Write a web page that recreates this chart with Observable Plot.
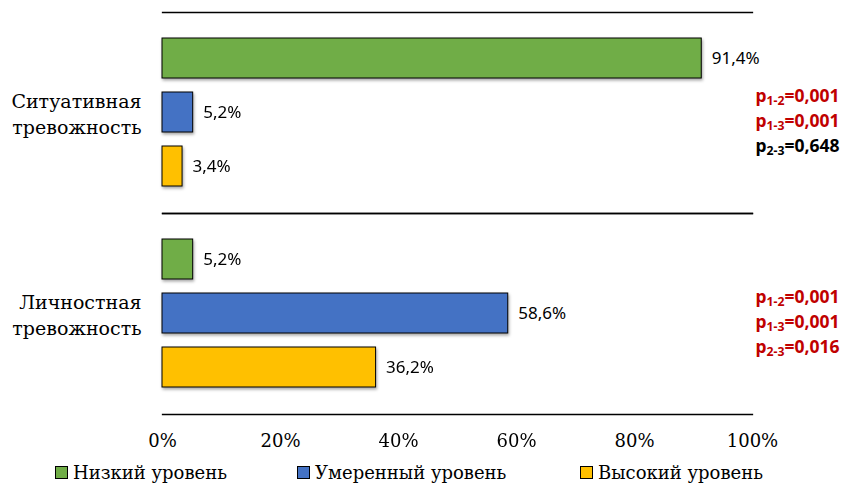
<!DOCTYPE html>
<html><head><meta charset="utf-8">
<script src="https://cdn.jsdelivr.net/npm/d3@7"></script>
<script src="https://cdn.jsdelivr.net/npm/@observablehq/plot@0.6"></script>
<style>
body{margin:0;background:#fff;}
#legend{position:relative;width:844px;height:35px;font-family:"DejaVu Serif",serif;font-size:18px;color:#000;}
#legend .item{position:absolute;top:12px;display:flex;align-items:center;white-space:nowrap;}
#legend .sw{width:11px;height:11px;border:1px solid #000;margin-right:5px;}
</style>
</head><body>
<div id="chart"></div>
<div id="legend"></div>
<script>
const groups = ["Ситуативная тревожность", "Личностная тревожность"];
const groupLabels = ["Ситуативная\nтревожность", "Личностная\nтревожность"];
const levels = ["Низкий уровень", "Умеренный уровень", "Высокий уровень"];
const levelColors = ["#70AD47", "#4472C4", "#FFC000"];
const situational = [91.4, 5.2, 3.4];
const personal = [5.2, 58.6, 36.2];
const xTicks = [0, 20, 40, 60, 80, 100];
const pPairs = ["1-2", "1-3", "2-3"];
const pSituational = ["0,001", "0,001", "0,648"];
const pPersonal = ["0,001", "0,001", "0,016"];
const pColorSituational = ["#C00000", "#C00000", "#000000"];
const pColorPersonal = ["#C00000", "#C00000", "#C00000"];
const legendLeft = [55, 297, 580];

const rows = [];
[situational, personal].forEach((vals, gi) => vals.forEach((v, li) => rows.push({group: groups[gi], level: levels[li], value: v, color: levelColors[li]})));
const pRows = [];
[[pSituational, pColorSituational], [pPersonal, pColorPersonal]].forEach(([vals, cols], gi) =>
  vals.forEach((v, i) => pRows.push({group: groups[gi], idx: i, text: `p${pPairs[i]}=${v}`, color: cols[i]})));

const fmt = v => String(v).replace(".", ",") + "%";
const pDy = [-17, 8, 33];

const chart = Plot.plot({
  width: 844, height: 450,
  marginLeft: 162, marginRight: 92, marginTop: 12, marginBottom: 36,
  x: {domain: [0, 100], axis: null},
  y: {domain: levels, paddingInner: 0.255, paddingOuter: 0.455, axis: null},
  fy: {domain: groups, padding: 0, axis: null},
  color: {type: "identity"},
  marks: [
    Plot.frame({anchor: "top", stroke: "#000", strokeWidth: 1.3}),
    Plot.frame({anchor: "bottom", stroke: "#000", strokeWidth: 1.3}),
    Plot.barX(rows, {x: "value", y: "level", fy: "group", fill: "color", stroke: "#000", strokeWidth: 1}),
    Plot.text(rows, {x: "value", y: "level", fy: "group", text: d => fmt(d.value), textAnchor: "start", dx: 10,
      fontSize: 17, fontFamily: "Noto Sans", fill: "#000"}),
    Plot.axisX({ticks: xTicks, tickSize: 0, tickPadding: 20, tickFormat: d => d + "%", label: null,
      fontSize: 18, fontFamily: "DejaVu Serif", fill: "#000"}),
    Plot.text(groups, {fy: d => d, text: (d, i) => groupLabels[i], frameAnchor: "left", textAnchor: "end", dx: -21,
      lineHeight: 1.35, fontSize: 19, fontFamily: "DejaVu Serif", fill: "#000"}),
    ...pDy.map((dy, i) => Plot.text(pRows.filter(d => d.idx === i), {fy: "group", text: "text", fill: "color",
      frameAnchor: "right", textAnchor: "start", dx: 3, dy, fontSize: 17.5, fontWeight: "bold", fontFamily: "Noto Sans"}))
  ]
});
document.getElementById("chart").appendChild(chart);

// subscripts for p-values
d3.select(chart).selectAll("text").each(function() {
  const t = this.textContent;
  const m = /^p(\d-\d)(=.*)$/.exec(t);
  if (!m || this.querySelector("tspan")) return;
  const sel = d3.select(this);
  sel.text("");
  sel.append("tspan").text("p");
  sel.append("tspan").attr("font-size", "0.7em").attr("dy", "0.3em").text(m[1]);
  sel.append("tspan").attr("dy", "-0.2em").text(m[2]);
});
// subtle shadow on bars
d3.select(chart).select('g[aria-label="bar"]').style("filter", "drop-shadow(1.5px 2px 1.5px rgba(0,0,0,0.35))");

const legend = d3.select("#legend");
levels.forEach((l, i) => {
  const it = legend.append("div").attr("class", "item").style("left", legendLeft[i] + "px");
  it.append("div").attr("class", "sw").style("background", levelColors[i]);
  it.append("span").text(l);
});
</script>
</body></html>
